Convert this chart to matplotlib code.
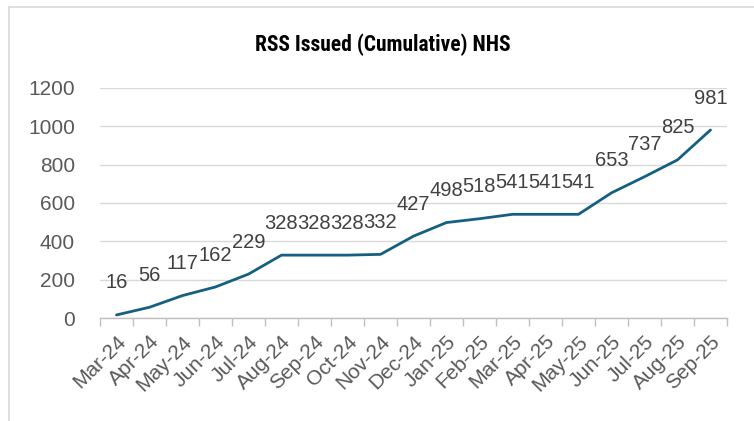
import matplotlib
matplotlib.use("Agg")
import matplotlib.pyplot as plt
from matplotlib.lines import Line2D

months = ["Mar-24", "Apr-24", "May-24", "Jun-24", "Jul-24", "Aug-24", "Sep-24",
          "Oct-24", "Nov-24", "Dec-24", "Jan-25", "Feb-25", "Mar-25", "Apr-25",
          "May-25", "Jun-25", "Jul-25", "Aug-25", "Sep-25"]
values = [16, 56, 117, 162, 229, 328, 328, 328, 332, 427, 498, 518, 541, 541,
          541, 653, 737, 825, 981]
y_ticks = [0, 200, 400, 600, 800, 1000, 1200]
title = "RSS Issued (Cumulative) NHS"

W, H = 754, 421
fig = plt.figure(figsize=(W / 100, H / 100), dpi=100)
fig.patch.set_facecolor("white")

# chart border (left and top visible)
fig.add_artist(Line2D([9 / W, 9 / W], [0, 1 - 7 / H], transform=fig.transFigure,
                      color="#D9D9D9", lw=1.2))
fig.add_artist(Line2D([9 / W, 1], [1 - 7 / H, 1 - 7 / H], transform=fig.transFigure,
                      color="#D9D9D9", lw=1.2))

left, right = 100 / W, 727 / W
bottom, top = 1 - 318 / H, 1 - 88 / H
ax = fig.add_axes([left, bottom, right - left, top - bottom])

x = list(range(len(months)))
ax.plot(x, values, color="#156082", lw=2.0, solid_capstyle="round", zorder=3)

for xi, v in zip(x, values):
    ax.annotate(str(v), (xi, v), xytext=(0, 23), textcoords="offset points",
                ha="center", va="center", fontsize=14.5, color="#404040",
                family="Liberation Sans")

ax.set_xlim(-0.5, len(months) - 0.5)
ax.set_ylim(0, 1200)
ax.set_yticks(y_ticks)
ax.set_yticklabels([str(t) for t in y_ticks], fontsize=15, color="#595959",
                   family="Liberation Sans")
ax.yaxis.grid(True, color="#D9D9D9", lw=1)
ax.set_axisbelow(True)
ax.tick_params(axis="y", length=0, pad=18)

ax.set_xticks(x)
ax.set_xticklabels(months, rotation=45, ha="right", rotation_mode="anchor",
                   fontsize=15, color="#595959", family="Liberation Sans")
ax.tick_params(axis="x", which="major", length=0, pad=10)
ax.set_xticks([i - 0.5 for i in range(len(months) + 1)], minor=True)
ax.tick_params(axis="x", which="minor", length=6, color="#BFBFBF", width=1)

for s in ["top", "right", "left"]:
    ax.spines[s].set_visible(False)
ax.spines["bottom"].set_color("#BFBFBF")
ax.spines["bottom"].set_linewidth(1)

fig.text(383 / W, 1 - 45 / H, title, ha="center", va="center", fontsize=15.5,
         fontweight="bold", color="#000000",
         family=["Liberation Sans Narrow", "Roboto Condensed", "DejaVu Sans"])

fig.savefig("out.png", dpi=100, facecolor="white")
